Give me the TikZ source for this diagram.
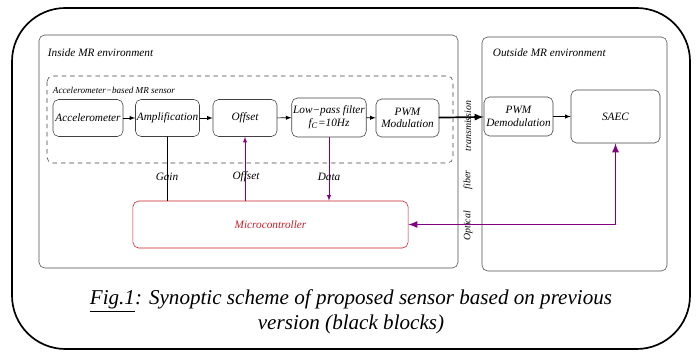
\documentclass[tikz,border=0pt]{standalone}
\usepackage{fontspec}
\setmainfont{Liberation Serif}
\usetikzlibrary{arrows}
\definecolor{mcured}{RGB}{200,30,40}
\definecolor{linkpurple}{RGB}{128,0,128}
\tikzset{
  blk/.style={draw=black!75,rounded corners=4pt,align=center,inner sep=1pt,font=\fontsize{8}{9}\selectfont\itshape},
  lbl/.style={font=\fontsize{8}{9}\selectfont\itshape},
  env/.style={draw=black!70,rounded corners=4pt}
}
\begin{document}
\begin{tikzpicture}[line join=round,line cap=round,>=latex,x=0.025cm,y=-0.025cm]
		\useasboundingbox (0,0) rectangle (696,352);
		\draw[line width=1.2pt,rounded corners=38pt] (12,8) rectangle (690,349);
		% environments
		\draw[env] (39,35) rectangle (458,268);
		\draw[env] (482,37) rectangle (667,271);
		\draw[black!75,dashed,rounded corners=4pt] (47,76) rectangle (453,163);
		\node[lbl,anchor=west] (inenv) at (43,53) {Inside MR environment};
		\node[lbl,anchor=west] (outenv) at (488,53) {Outside MR environment};
		\node[font=\fontsize{6.5}{7}\selectfont\itshape,anchor=west] (sensor) at (48,90) {Accelerometer−based MR sensor};
		% blocks
		\node[blk,minimum width=1.75cm,minimum height=0.925cm] (acc) at (88,118) {Accelerometer};
		\node[blk,minimum width=1.575cm,minimum height=0.925cm] (amp) at (167.5,118) {Amplification};
		\node[blk,minimum width=1.6cm,minimum height=0.925cm] (ofs) at (245,118) {Offset};
		\node[blk,minimum width=1.7cm,minimum height=0.975cm] (lpf) at (329,117.5) {Low−pass filter\\ \textit{f}\textsubscript{C}=10Hz};
		\node[blk,minimum width=1.575cm,minimum height=0.95cm] (pwm) at (407.5,118) {PWM\\Modulation};
		\node[blk,minimum width=1.725cm,minimum height=0.975cm] (dem) at (518.5,116.5) {PWM\\Demodulation};
		\node[blk,minimum width=2.225cm,minimum height=1.325cm] (saec) at (615.5,116.5) {SAEC};
		\node[blk,draw=mcured,text=mcured,minimum width=6.875cm,minimum height=1.175cm] (mcu) at (270.5,224.5) {Microcontroller};
		% chain
		\foreach \a/\b in {acc/amp,amp/ofs,ofs/lpf,lpf/pwm,dem/saec} \draw[->] (\a) -- (\b);
		\draw[->,line width=1.2pt] (pwm) -- (dem);
		% links to the microcontroller
		\draw (amp) -- (amp |- mcu.north);
		\draw[->,linkpurple] (ofs |- mcu.north) -- (ofs);
		\draw[->,linkpurple] (lpf) -- (lpf |- mcu.north);
		\draw[<->,linkpurple,line width=1.2pt] (saec.south) |- (mcu.east);
		\node[lbl] (gain) at (167,177) {Gain};
		\node[lbl] (ofslbl) at (246,177) {Offset};
		\node[lbl] (data) at (329,177) {Data};
		% fiber
		\node[lbl,font=\fontsize{7}{8}\selectfont\itshape,rotate=90] (optical) at (468,226) {Optical};
		\node[lbl,font=\fontsize{7}{8}\selectfont\itshape,rotate=90] (fiber) at (468,180) {fiber};
		\node[lbl,font=\fontsize{7}{8}\selectfont\itshape,rotate=90] (trans) at (468,126) {transmission};
		% caption
		\node[align=center,font=\fontsize{15}{17.8}\selectfont\itshape] (caption) at (351,312) {\underline{Fig.1}: Synoptic scheme of proposed sensor based on previous\\version (black blocks)};
	\end{tikzpicture}
\end{document}
